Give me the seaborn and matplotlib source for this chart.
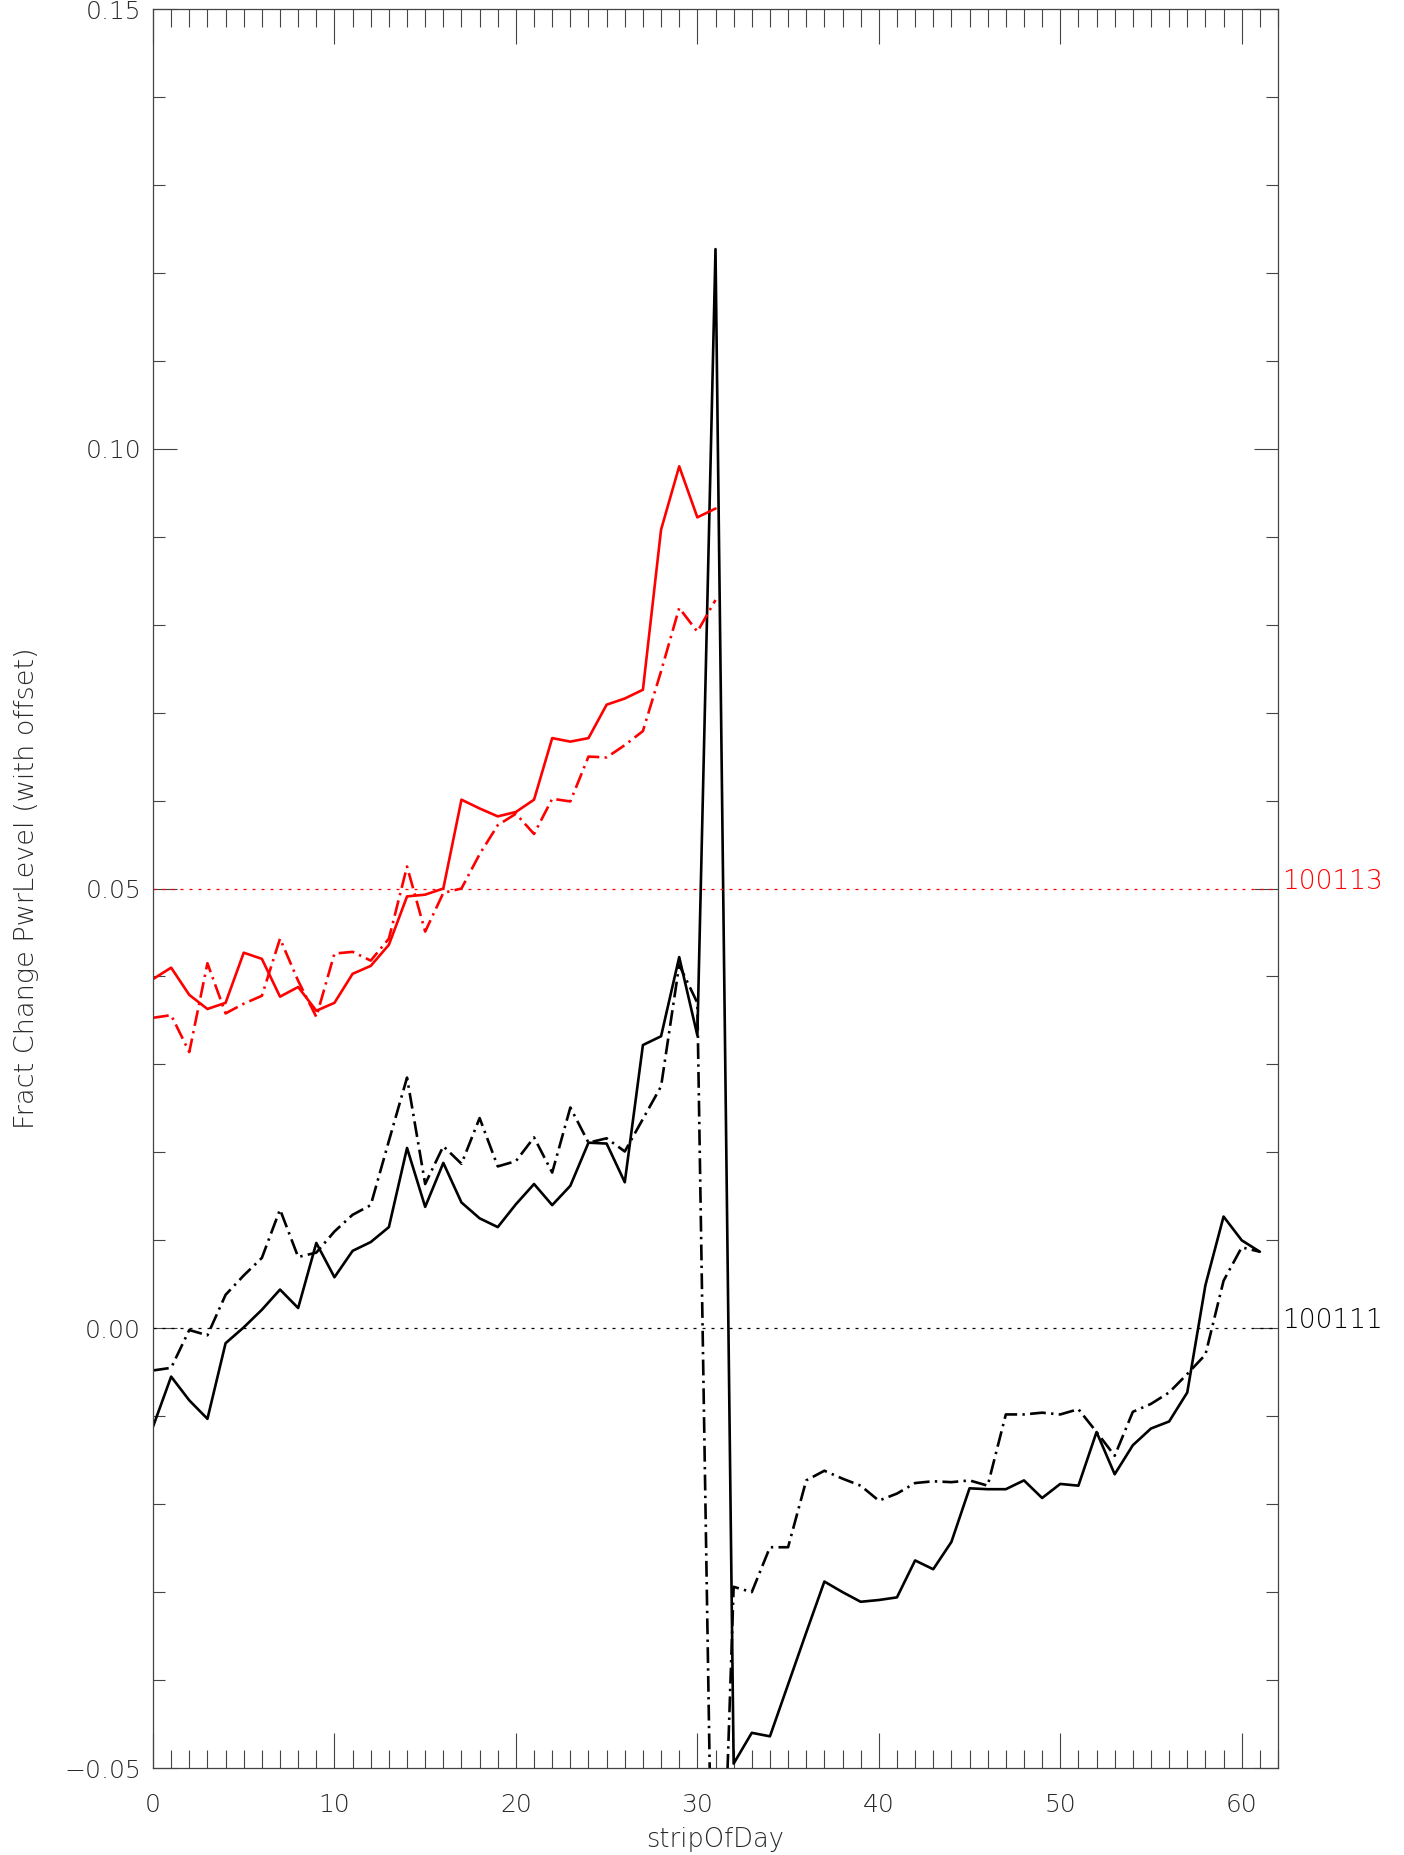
# Fractional change of PwrLevel vs stripOfDay, two runs with offset
import numpy as np
import pandas as pd
import matplotlib
matplotlib.use("Agg")
import matplotlib.pyplot as plt
import seaborn as sns
from matplotlib.ticker import MultipleLocator

# -----------------------------
# Data
# -----------------------------
strip = list(range(62))

# run 100111 (offset 0.00)
pwr_100111_solid = [
    -0.0112, -0.0055, -0.0082, -0.0103, -0.0017, 0.0001, 0.0021, 0.0044, 0.0023, 0.0097,
    0.0058, 0.0088, 0.0098, 0.0115, 0.0205, 0.0138, 0.0188, 0.0143, 0.0125, 0.0115,
    0.0141, 0.0164, 0.0140, 0.0162, 0.0211, 0.0210, 0.0166, 0.0322, 0.0332, 0.0422,
    0.0333, 0.1227, -0.0495, -0.0460, -0.0464, -0.0405, -0.0346, -0.0288, -0.0300, -0.0311,
    -0.0309, -0.0306, -0.0264, -0.0274, -0.0243, -0.0182, -0.0183, -0.0183, -0.0173, -0.0193,
    -0.0177, -0.0179, -0.0118, -0.0166, -0.0133, -0.0114, -0.0106, -0.0073, 0.0049, 0.0127,
    0.0100, 0.0087,
]
pwr_100111_dashdot = [
    -0.0048, -0.0045, -0.0002, -0.0008, 0.0038, 0.0060, 0.0080, 0.0135, 0.0081, 0.0086,
    0.0110, 0.0129, 0.0140, 0.0213, 0.0285, 0.0164, 0.0207, 0.0187, 0.0239, 0.0184,
    0.0190, 0.0217, 0.0177, 0.0251, 0.0211, 0.0216, 0.0201, 0.0238, 0.0275, 0.0413,
    0.0370, -0.0910, -0.0294, -0.0300, -0.0249, -0.0249, -0.0173, -0.0162, -0.0171, -0.0179,
    -0.0196, -0.0188, -0.0176, -0.0174, -0.0175, -0.0173, -0.0179, -0.0098, -0.0098, -0.0096,
    -0.0098, -0.0092, -0.0118, -0.0145, -0.0095, -0.0086, -0.0073, -0.0052, -0.0030, 0.0054,
    0.0092, 0.0087,
]

# run 100113 (offset 0.05)
pwr_100113_solid = [
    0.0397, 0.0410, 0.0379, 0.0363, 0.0370, 0.0427, 0.0420, 0.0377, 0.0388, 0.0361,
    0.0370, 0.0403, 0.0412, 0.0436, 0.0491, 0.0493, 0.0500, 0.0601, 0.0591, 0.0582,
    0.0587, 0.0601, 0.0671, 0.0667, 0.0671, 0.0709, 0.0716, 0.0726, 0.0908, 0.0980,
    0.0922, 0.0932,
]
pwr_100113_dashdot = [
    0.0353, 0.0356, 0.0314, 0.0415, 0.0358, 0.0369, 0.0378, 0.0443, 0.0395, 0.0354,
    0.0426, 0.0428, 0.0418, 0.0443, 0.0525, 0.0451, 0.0495, 0.0500, 0.0539, 0.0572,
    0.0585, 0.0562, 0.0602, 0.0599, 0.0650, 0.0649, 0.0663, 0.0679, 0.0747, 0.0819,
    0.0792, 0.0828,
]

run_ids = ["100111", "100113"]
run_offsets = [0.00, 0.05]
run_colors = ["black", "red"]

ytick_vals = [-0.05, 0.00, 0.05, 0.10, 0.15]
ytick_labels = ["\u22120.05", "0.00", "0.05", "0.10", "0.15"]

# long-form table for seaborn
frames = []
for run, kind, vals in [("100111", "solid", pwr_100111_solid),
                        ("100111", "dashdot", pwr_100111_dashdot),
                        ("100113", "solid", pwr_100113_solid),
                        ("100113", "dashdot", pwr_100113_dashdot)]:
    frames.append(pd.DataFrame({"strip": strip[:len(vals)], "pwr": vals,
                                "run": run, "kind": kind}))
df = pd.concat(frames, ignore_index=True)

# -----------------------------
# Plot
# -----------------------------
sns.set_style("white")
plt.rcParams["font.family"] = ["DejaVu Sans"]
txt_color = "#2a2a2a"
ax_color = "#444444"

fig = plt.figure(figsize=(14.04, 18.55), dpi=100)
W, H = 1404, 1855
ax = fig.add_axes([153 / W, 1 - 1768 / H, (1278 - 153) / W, (1768 - 9) / H])

sns.lineplot(data=df, x="strip", y="pwr", hue="run", style="kind",
             palette=dict(zip(run_ids, run_colors)),
             dashes={"solid": "", "dashdot": (6.0, 2.0, 0.9, 2.0)},
             linewidth=1.9, estimator=None, legend=False, ax=ax)

# offset reference lines and run labels
for run, off, col in zip(run_ids, run_offsets, run_colors):
    ax.axhline(off, color=col, lw=0.9, dashes=(2.4, 4.8))
    ax.text(1.004, off, run, transform=ax.get_yaxis_transform(), color=col,
            fontsize=19, fontweight="light", ha="left", va="baseline")

ax.set_xlim(0, 62)
ax.set_ylim(-0.05, 0.15)
ax.xaxis.set_major_locator(MultipleLocator(10))
ax.xaxis.set_minor_locator(MultipleLocator(1))
ax.set_yticks(ytick_vals, ytick_labels)
ax.yaxis.set_minor_locator(MultipleLocator(0.01))

ax.tick_params(axis="both", which="both", direction="in",
               top=True, bottom=True, left=True, right=True,
               color=ax_color, width=0.8, labelcolor=txt_color, labelsize=18)
ax.tick_params(axis="x", which="major", length=25, pad=18)
ax.tick_params(axis="x", which="minor", length=12.7)
ax.tick_params(axis="y", which="major", length=17, pad=8.5)
ax.tick_params(axis="y", which="minor", length=8.6)
for lab in ax.get_xticklabels() + ax.get_yticklabels():
    lab.set_fontweight("light")

for sp in ax.spines.values():
    sp.set_color(ax_color)
    sp.set_linewidth(0.9)

ax.set_xlabel("stripOfDay", fontsize=18.5, color=txt_color, fontweight="light",
              va="center")
ax.xaxis.set_label_coords(0.5, (1768 - 1840) / (1768 - 9))
ax.set_ylabel("Fract Change PwrLevel (with offset)", fontsize=19.5, color=txt_color,
              fontweight="light", va="center", ha="center")
ax.yaxis.set_label_coords((27 - 153) / (1278 - 153), 0.5)

plt.savefig("out.png", dpi=100)
